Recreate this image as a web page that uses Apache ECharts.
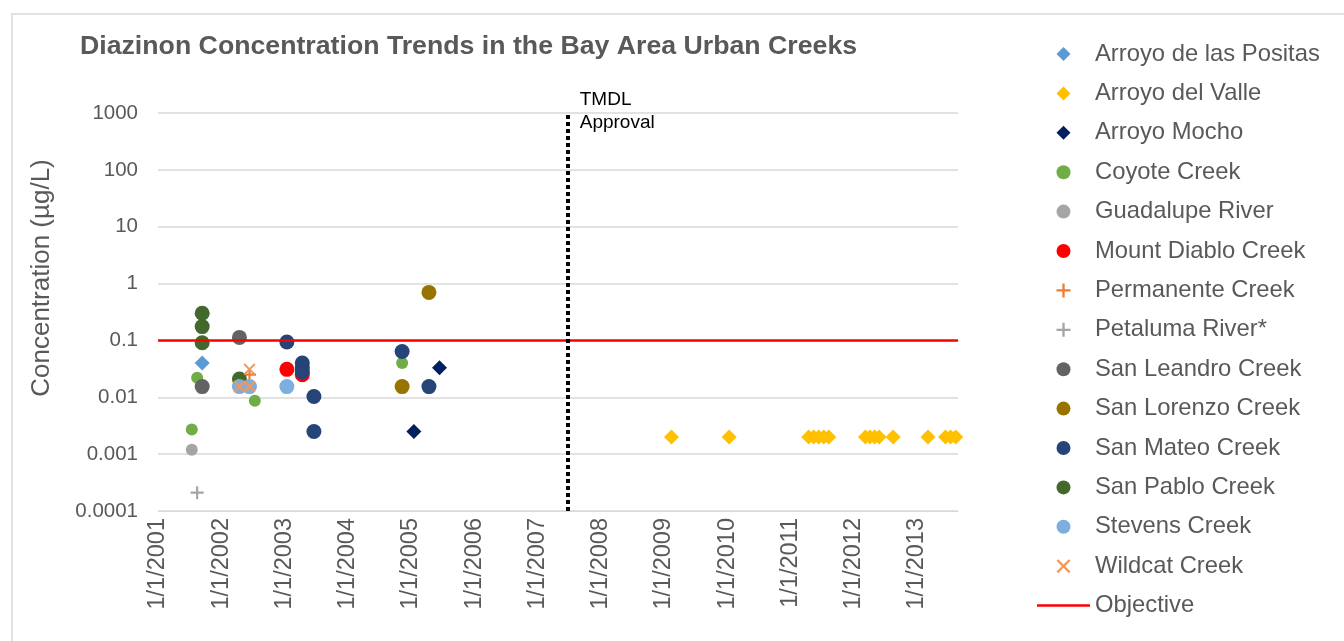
<!DOCTYPE html>
<html>
<head>
<meta charset="utf-8">
<script src="https://cdn.jsdelivr.net/npm/echarts@6/dist/echarts.min.js"></script>
<style>
  html, body { margin: 0; padding: 0; background: #fff; }
  #chart { width: 1344px; height: 641px; }
</style>
</head>
<body>
<div id="chart"></div>
<script>
// sample dates / concentrations (ug/L)
const arroyoDeLasPositas = [['2001-09-13', 0.04]];
const arroyoDelValle = [
  ['2009-02-14', 0.002], ['2010-01-13', 0.002],
  ['2011-04-17', 0.002], ['2011-05-16', 0.002], ['2011-06-14', 0.002], ['2011-07-13', 0.002], ['2011-08-11', 0.002],
  ['2012-03-10', 0.002], ['2012-04-05', 0.002], ['2012-05-02', 0.002], ['2012-05-28', 0.002], ['2012-08-17', 0.002],
  ['2013-03-07', 0.002], ['2013-06-16', 0.002], ['2013-07-15', 0.002], ['2013-08-14', 0.002]
];
const arroyoMocho = [['2005-01-18', 0.0025], ['2005-06-15', 0.033]];
const coyoteCreek = [['2001-07-15', 0.0027], ['2001-08-15', 0.022], ['2002-07-14', 0.0087], ['2004-11-11', 0.04]];
const guadalupeRiver = [['2001-07-15', 0.0012]];
const mountDiabloCreek = [['2003-01-15', 0.031], ['2003-04-14', 0.025]];
const permanenteCreek = [['2002-06-13', 0.025]];
const petalumaRiver = [['2001-08-15', 0.00021]];
const sanLeandroCreek = [['2001-09-13', 0.0154], ['2002-04-16', 0.113]];
const sanLorenzoCreek = [['2004-11-11', 0.0154], ['2005-04-15', 0.7]];
const sanMateoCreek = [
  ['2003-01-15', 0.094], ['2003-04-14', 0.04], ['2003-04-14', 0.033], ['2003-04-14', 0.028],
  ['2003-06-20', 0.0103], ['2003-06-20', 0.0025], ['2004-11-11', 0.064], ['2005-04-15', 0.0154]
];
const sanPabloCreek = [['2001-09-13', 0.3], ['2001-09-13', 0.175], ['2001-09-13', 0.091], ['2002-04-16', 0.021]];
const stevensCreek = [['2002-04-16', 0.0154], ['2002-06-13', 0.0154], ['2003-01-15', 0.0154]];
const wildcatCreek = [['2002-04-16', 0.0154], ['2002-06-13', 0.0154], ['2002-06-13', 0.031]];

const objective = 0.1;
const tmdlDate = '2007-06-26';
const axisStart = '2001-01-01';
const axisEnd = '2013-08-27';

// date string -> decimal year
function toYear(s) {
  const d = Date.parse(s);
  const y = new Date(d).getUTCFullYear();
  const a = Date.UTC(y, 0, 1), b = Date.UTC(y + 1, 0, 1);
  return y + (d - a) / (b - a);
}
const pts = arr => arr.map(p => [toYear(p[0]), p[1]]);

const DIAMOND = 'path://M7,0L14,7L7,14L0,7Z';
const PLUS = 'path://M5,0H7V5H12V7H7V12H5V7H0V5H5Z';
const CROSS = 'path://M0,1.4L1.4,0L6,4.6L10.6,0L12,1.4L7.4,6L12,10.6L10.6,12L6,7.4L1.4,12L0,10.6L4.6,6Z';
const LINE = 'path://M0,0H53V2.5H0Z';

const defs = [
  ['Arroyo de las Positas', arroyoDeLasPositas, '#5B9BD5', DIAMOND, 15],
  ['Arroyo del Valle', arroyoDelValle, '#FFC000', DIAMOND, 15],
  ['Arroyo Mocho', arroyoMocho, '#002060', DIAMOND, 15],
  ['Coyote Creek', coyoteCreek, '#70AD47', 'circle', 12],
  ['Guadalupe River', guadalupeRiver, '#A5A5A5', 'circle', 12],
  ['Mount Diablo Creek', mountDiabloCreek, '#FF0000', 'circle', 15],
  ['Permanente Creek', permanenteCreek, '#ED7D31', PLUS, 13],
  ['Petaluma River*', petalumaRiver, '#A5A5A5', PLUS, 13],
  ['San Leandro Creek', sanLeandroCreek, '#636363', 'circle', 15],
  ['San Lorenzo Creek', sanLorenzoCreek, '#997300', 'circle', 15],
  ['San Mateo Creek', sanMateoCreek, '#264478', 'circle', 15],
  ['San Pablo Creek', sanPabloCreek, '#43682B', 'circle', 15],
  ['Stevens Creek', stevensCreek, '#7CAFDD', 'circle', 15],
  ['Wildcat Creek', wildcatCreek, '#F1975A', CROSS, 12]
];

const series = defs.map(d => ({
  name: d[0],
  type: 'scatter',
  data: pts(d[1]),
  symbol: d[3],
  symbolSize: d[4],
  symbolKeepAspect: true,
  itemStyle: { color: d[2], opacity: 1 }
}));

series.push({
  name: 'Objective',
  type: 'line',
  data: [],
  symbol: 'none',
  lineStyle: { color: '#FF0000', width: 2 },
  itemStyle: { color: '#FF0000' },
  markLine: {
    silent: true,
    symbol: 'none',
    animation: false,
    data: [
      { yAxis: objective, lineStyle: { color: '#FF0000', width: 2.5, type: 'solid' }, label: { show: false } },
      {
        xAxis: toYear(tmdlDate),
        lineStyle: { color: '#000', width: 4, type: [4, 3] },
        label: {
          show: true, position: 'end', formatter: 'TMDL\nApproval',
          align: 'left', verticalAlign: 'top', distance: 25,
          padding: [0, 0, 0, 12],
          color: '#000', fontSize: 19, lineHeight: 23, fontFamily: 'Liberation Sans'
        }
      }
    ]
  }
});

const legendData = defs.map(d => ({ name: d[0], icon: d[3] }));
legendData.push({ name: 'Objective', icon: LINE });

const chart = echarts.init(document.getElementById('chart'));
chart.setOption({
  animation: false,
  backgroundColor: '#fff',
  textStyle: { fontFamily: 'Liberation Sans' },
  graphic: [{
    type: 'rect', shape: { x: 12, y: 14, width: 1360, height: 660 },
    style: { fill: 'none', stroke: '#d9d9d9', lineWidth: 1.5 }, silent: true
  }],
  title: {
    text: 'Diazinon Concentration Trends in the Bay Area Urban Creeks',
    left: 80, top: 33, padding: 0,
    textStyle: { fontSize: 26.7, fontWeight: 'bold', color: '#595959', fontFamily: 'Liberation Sans' }
  },
  legend: {
    orient: 'vertical',
    left: 1037, top: 42, padding: 0,
    itemWidth: 53, itemHeight: 14, itemGap: 15.4,
    symbolKeepAspect: true,
    data: legendData,
    textStyle: { fontSize: 23.8, lineHeight: 24, color: '#595959', fontFamily: 'Liberation Sans' }
  },
  grid: { left: 158, right: 386, top: 113, bottom: 130 },
  xAxis: {
    type: 'value',
    min: toYear(axisStart), max: toYear(axisEnd), interval: 1,
    splitLine: { show: false },
    axisLine: { show: true, lineStyle: { color: '#d9d9d9' } },
    axisTick: { show: false },
    axisLabel: {
      rotate: 90, margin: 7, color: '#595959', fontSize: 23.5,
      showMaxLabel: false,
      formatter: v => (Math.abs(v - Math.round(v)) < 1e-6 ? '1/1/' + Math.round(v) : '')
    }
  },
  yAxis: {
    type: 'log', logBase: 10, min: 0.0001, max: 1000,
    name: 'Concentration (µg/L)', nameLocation: 'middle', nameRotate: 90, nameGap: 103,
    nameTextStyle: { fontSize: 26, color: '#595959', padding: [0, 0, 0, 68] },
    axisLine: { show: false },
    axisTick: { show: false },
    splitLine: { lineStyle: { color: '#d9d9d9', width: 1.5 } },
    axisLabel: {
      margin: 20, color: '#595959', fontSize: 20.5,
      formatter: v => String(Number(v.toPrecision(3)))
    }
  },
  series: series
});
</script>
</body>
</html>
